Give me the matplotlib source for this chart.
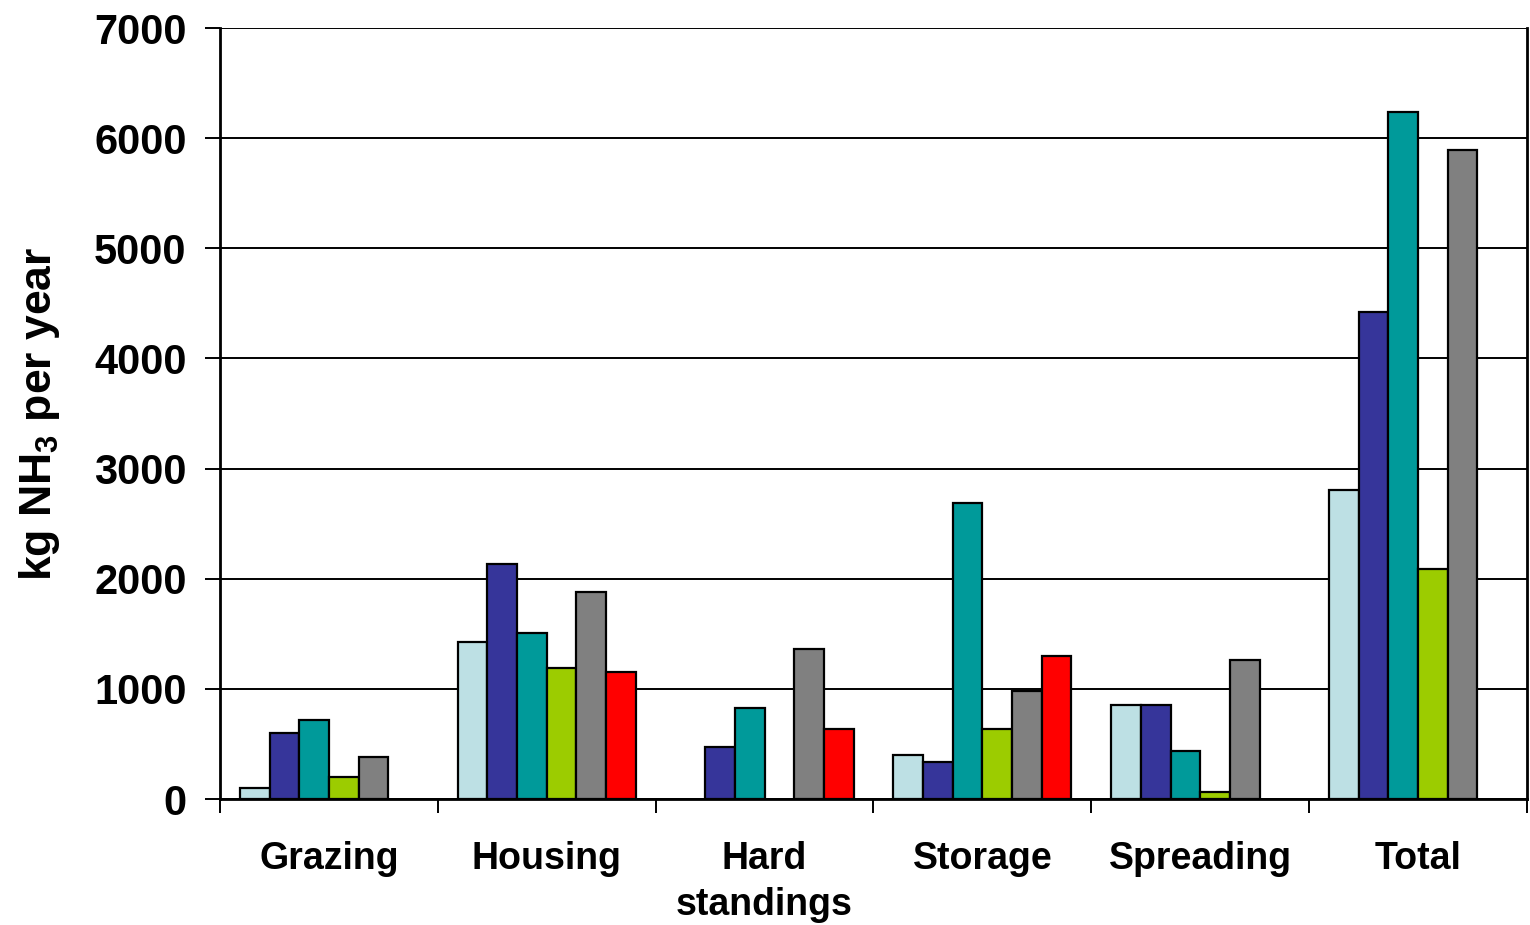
import numpy as np
import matplotlib
matplotlib.use("Agg")
import matplotlib.pyplot as plt

plt.rcParams["font.family"] = ["Liberation Sans", "DejaVu Sans"]
plt.rcParams["font.weight"] = "bold"
plt.rcParams["mathtext.fontset"] = "custom"
plt.rcParams["mathtext.rm"] = "Liberation Sans:bold"
plt.rcParams["mathtext.bf"] = "Liberation Sans:bold"

categories = ["Grazing", "Housing", "Hard\nstandings", "Storage", "Spreading", "Total"]

# one list per series (six farm systems), values in kg NH3 per year
s1 = [100, 1430, 0, 400, 850, 2810]
s2 = [600, 2130, 470, 340, 850, 4420]
s3 = [720, 1510, 830, 2690, 440, 6240]
s4 = [200, 1190, 0, 640, 60, 2090]
s5 = [380, 1880, 1360, 980, 1260, 5890]
s6 = [0, 1150, 640, 1300, 0, 0]

series = [s1, s2, s3, s4, s5, s6]
colors = ["#bde0e4", "#36359a", "#009a9a", "#9ccc00", "#808080", "#ff0000"]

fig = plt.figure(figsize=(15.3, 9.25), dpi=100)
ax = fig.add_axes([0.1438, 0.1362, 0.8542, 0.8335])

x = np.arange(len(categories))
bw = 0.817 / 6
for i, (vals, col) in enumerate(zip(series, colors)):
    offs = -0.817 / 2 + bw * (i + 0.5)
    v = np.array(vals, dtype=float)
    keep = v > 0
    ax.bar(x[keep] + offs, v[keep], width=bw, color=col,
           edgecolor="black", linewidth=1.6, zorder=3)

ax.set_xlim(-0.5, len(categories) - 0.5)
ax.set_ylim(0, 7000)
ax.set_yticks(np.arange(0, 7001, 1000))
ax.yaxis.grid(True, color="black", linewidth=1.4, zorder=0)
ax.tick_params(axis="y", direction="out", length=11, width=1.4,
               labelsize=30, pad=13)

# category boundaries as major ticks, names as minor labels
ax.set_xticks(np.arange(-0.5, len(categories), 1.0))
ax.set_xticklabels([])
ax.set_xticks(x, minor=True)
ax.set_xticklabels(categories, minor=True, fontsize=27, fontweight="bold",
                   linespacing=1.38, va="top")
ax.tick_params(axis="x", which="major", direction="out", length=10, width=1.4)
ax.tick_params(axis="x", which="minor", length=0, pad=30)

for side in ("left", "right", "bottom"):
    ax.spines[side].set_linewidth(2)
    ax.spines[side].set_color("black")
ax.spines["top"].set_visible(False)

ax.set_ylabel(r"kg NH$_\mathregular{3}$ per year", fontsize=32,
              fontweight="bold", labelpad=23)

fig.savefig("out.png", dpi=100)
